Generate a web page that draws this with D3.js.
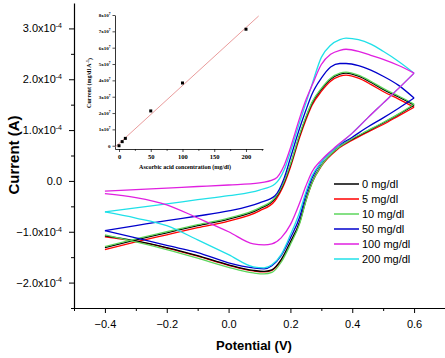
<!DOCTYPE html>
<html>
<head>
<meta charset="utf-8">
<script src="https://cdn.jsdelivr.net/npm/d3@7"></script>
<style>
  body { margin: 0; background: #fff; }
  svg { display: block; font-family: Arial, "Liberation Sans", sans-serif; }
</style>
</head>
<body>
<svg id="chart" width="445" height="358"></svg>
<script>
// potential grid (V) for forward and reverse scans
const potFwd = [-0.4, -0.3, -0.2, -0.1, 0.0, 0.1, 0.15, 0.18, 0.2, 0.23, 0.25, 0.27, 0.3, 0.33, 0.36, 0.38, 0.42, 0.46, 0.5, 0.55, 0.6]
const potRev = [0.6, 0.55, 0.5, 0.45, 0.4, 0.35, 0.3, 0.27, 0.25, 0.23, 0.2, 0.17, 0.14, 0.115, 0.08, 0.0, -0.1, -0.2, -0.3, -0.4]

// current in units of 1e-4 A
const fwd0 = [-1.31, -1.16, -1.02, -0.88, -0.75, -0.55, -0.35, -0.02, 0.31, 0.90, 1.24, 1.53, 1.80, 2.00, 2.10, 2.12, 2.06, 1.94, 1.80, 1.65, 1.49]
const rev0 = [1.49, 1.31, 1.14, 0.98, 0.82, 0.63, 0.31, -0.02, -0.37, -0.80, -1.20, -1.55, -1.75, -1.78, -1.76, -1.65, -1.47, -1.31, -1.18, -1.08]
const fwd5 = [-1.35, -1.20, -1.06, -0.92, -0.79, -0.59, -0.39, -0.06, 0.27, 0.86, 1.20, 1.49, 1.76, 1.96, 2.06, 2.08, 2.02, 1.90, 1.76, 1.61, 1.45]
const rev5 = [1.45, 1.28, 1.11, 0.96, 0.80, 0.61, 0.29, -0.04, -0.39, -0.82, -1.22, -1.57, -1.76, -1.79, -1.77, -1.66, -1.48, -1.32, -1.19, -1.10]
const fwd10 = [-1.29, -1.14, -1.00, -0.86, -0.73, -0.53, -0.33, 0.00, 0.33, 0.92, 1.26, 1.55, 1.82, 2.02, 2.12, 2.14, 2.08, 1.96, 1.82, 1.67, 1.51]
const rev10 = [1.51, 1.32, 1.15, 0.99, 0.83, 0.63, 0.30, -0.04, -0.40, -0.84, -1.25, -1.60, -1.80, -1.83, -1.81, -1.70, -1.52, -1.35, -1.20, -1.06]
const fwd50 = [-0.98, -0.88, -0.78, -0.69, -0.59, -0.43, -0.29, 0.06, 0.45, 1.04, 1.39, 1.71, 2.02, 2.24, 2.31, 2.31, 2.27, 2.18, 2.06, 1.88, 1.63]
const rev50 = [1.63, 1.43, 1.24, 1.06, 0.86, 0.67, 0.37, 0.06, -0.27, -0.71, -1.12, -1.47, -1.67, -1.73, -1.71, -1.61, -1.41, -1.27, -1.12, -0.98]
const fwd100 = [-0.20, -0.17, -0.14, -0.11, -0.08, -0.04, 0.04, 0.31, 0.65, 1.24, 1.59, 1.88, 2.29, 2.49, 2.57, 2.59, 2.55, 2.47, 2.39, 2.27, 2.12]
const rev100 = [2.12, 1.82, 1.53, 1.24, 0.94, 0.69, 0.41, 0.18, -0.10, -0.43, -0.86, -1.12, -1.24, -1.26, -1.24, -1.00, -0.73, -0.47, -0.33, -0.25]
const fwd200 = [-0.61, -0.53, -0.45, -0.37, -0.29, -0.18, -0.06, 0.22, 0.57, 1.16, 1.53, 1.90, 2.43, 2.67, 2.78, 2.81, 2.78, 2.69, 2.55, 2.35, 2.12]
const rev200 = [2.12, 1.82, 1.53, 1.24, 0.94, 0.67, 0.37, 0.10, -0.22, -0.61, -1.06, -1.45, -1.65, -1.71, -1.69, -1.45, -1.16, -0.88, -0.73, -0.61]

const labels = ['0 mg/dl', '5 mg/dl', '10 mg/dl', '50 mg/dl', '100 mg/dl', '200 mg/dl']
const colors = ['#000000', '#ff0000', '#5cd65c', '#0000cc', '#e020e0', '#20e0e8']
const fwdAll = [fwd0, fwd5, fwd10, fwd50, fwd100, fwd200]
const revAll = [rev0, rev5, rev10, rev50, rev100, rev200]
const drawOrder = [1, 0, 2, 3, 5, 4]

const yTicks = [-2, -1, 0, 1, 2, 3]
const xTicks = [-0.4, -0.2, 0.0, 0.2, 0.4, 0.6]

// inset: calibration
const conc = [0, 5, 10, 50, 100, 200]
const resp = [0, 0.25, 0.45, 2.13, 3.84, 7.13]   // x 1e7
const fitConc = [-6, 220]
const fitResp = [-0.08, 7.94]
const insetXTicks = [0, 50, 100, 150, 200]
const insetYTicks = [0, 1, 2, 3, 4, 5, 6, 7, 8]

const svg = d3.select('#chart')

const xScale = d3.scaleLinear().domain([-0.5, 0.7]).range([74, 445])
const yScale = d3.scaleLinear().domain([-2.5, 3.5]).range([308, 3])

// minor ticks
svg.append('g').attr('transform', 'translate(0,308)')
    .call(d3.axisBottom(xScale).tickValues([-0.5, -0.3, -0.1, 0.1, 0.3, 0.5]).tickSize(3).tickFormat(''))
    .call(g => g.select('.domain').remove())
svg.append('g').attr('transform', 'translate(74,0)')
    .call(d3.axisLeft(yScale).tickValues([-2.5, -1.5, -0.5, 0.5, 1.5, 2.5]).tickSize(3).tickFormat(''))
    .call(g => g.select('.domain').remove())

const xAxis = svg.append('g').attr('transform', 'translate(0,308)')
    .call(d3.axisBottom(xScale).tickValues(xTicks).tickSize(5).tickSizeOuter(0).tickFormat(d3.format('.1f')))
xAxis.selectAll('text').attr('font-size', 11).attr('dy', '1.05em').attr('fill', '#000')
xAxis.select('.domain').attr('stroke-width', 1.2)

const yAxis = svg.append('g').attr('transform', 'translate(74,0)')
    .call(d3.axisLeft(yScale).tickValues(yTicks).tickSize(5).tickSizeOuter(0).tickPadding(7))
yAxis.select('.domain').attr('stroke-width', 1.2)
yAxis.selectAll('.tick text').attr('font-size', 11).attr('fill', '#000')
    .each(function (d) {
        const t = d3.select(this).text(null)
        if (d === 0) { t.text('0.0'); return }
        t.append('tspan').text(d3.format('.1f')(d) + 'x10')
        t.append('tspan').attr('font-size', 7).attr('dy', '-0.6em').text('-4')
    })

svg.append('text').attr('transform', 'translate(19,155) rotate(-90)')
    .attr('text-anchor', 'middle').attr('font-weight', 'bold').attr('font-size', 15)
    .text('Current (A)')
svg.append('text').attr('x', 254).attr('y', 350)
    .attr('text-anchor', 'middle').attr('font-weight', 'bold').attr('font-size', 13)
    .text('Potential (V)')

// CV curves
const line = d3.line()
    .x(d => xScale(d[0]))
    .y(d => yScale(d[1]))
    .curve(d3.curveMonotoneX)

drawOrder.forEach(i => {
    const f = potFwd.map((v, j) => [v, fwdAll[i][j]])
    const r = potRev.map((v, j) => [v, revAll[i][j]]).reverse()
    ;[f, r].forEach(pts => {
        svg.append('path').datum(pts)
            .attr('d', line)
            .attr('fill', 'none')
            .attr('stroke', colors[i])
            .attr('stroke-width', 1.3)
    })
})

// legend
const legend = svg.append('g')
labels.forEach((lab, i) => {
    const y = 184 + i * 15
    legend.append('line').attr('x1', 334).attr('x2', 359).attr('y1', y).attr('y2', y)
        .attr('stroke', colors[i]).attr('stroke-width', 1.5)
    legend.append('text').attr('x', 362).attr('y', y + 4).attr('font-size', 11).text(lab)
})

// inset
const ix = d3.scaleLinear().domain([-6.3, 226.8]).range([115, 263])
const iy = d3.scaleLinear().domain([-0.2, 8]).range([149, 15])
const inset = svg.append('g').attr('font-family', '"Liberation Serif", "Times New Roman", serif')

const ixAxis = inset.append('g').attr('transform', 'translate(0,149)')
    .call(d3.axisBottom(ix).tickValues(insetXTicks).tickSize(3).tickSizeOuter(0).tickPadding(2))
ixAxis.selectAll('text').attr('font-size', 6.5).attr('font-weight', 'bold').attr('fill', '#000')
    .attr('font-family', '"Liberation Serif", serif')
ixAxis.select('.domain').attr('stroke-width', 0.8)
ixAxis.selectAll('line').attr('stroke-width', 0.7)
inset.append('g').attr('transform', 'translate(0,149)')
    .call(d3.axisBottom(ix).tickValues([25, 75, 125, 175, 225]).tickSize(2).tickFormat(''))
    .call(g => g.select('.domain').remove())
    .selectAll('line').attr('stroke-width', 0.6)

const iyAxis = inset.append('g').attr('transform', 'translate(115,0)')
    .call(d3.axisLeft(iy).tickValues(insetYTicks).tickSize(2.5).tickSizeOuter(0).tickPadding(2))
iyAxis.select('.domain').attr('stroke-width', 0.8)
iyAxis.selectAll('line').attr('stroke-width', 0.7)
iyAxis.selectAll('.tick text').attr('font-size', 5).attr('font-weight', 'bold').attr('fill', '#000')
    .attr('font-family', '"Liberation Serif", serif')
    .each(function (d) {
        const t = d3.select(this).text(null)
        if (d === 0) { t.text('0'); return }
        t.append('tspan').text(d + 'x10')
        t.append('tspan').attr('font-size', 3.5).attr('dy', '-0.6em').text('7')
    })

inset.append('text').attr('x', 185).attr('y', 169)
    .attr('text-anchor', 'middle').attr('font-weight', 'bold').attr('font-size', 6)
    .text('Ascorbic acid concentration (mg/dl)')
const iyTitle = inset.append('text').attr('transform', 'translate(91,83) rotate(-90)')
    .attr('text-anchor', 'middle').attr('font-weight', 'bold').attr('font-size', 6)
iyTitle.append('tspan').text('Current (mg/dl A')
iyTitle.append('tspan').attr('font-size', 4).attr('dy', '-0.6em').text('-1')
iyTitle.append('tspan').attr('dy', '0.6em').text(')')

inset.append('line')
    .attr('x1', ix(fitConc[0])).attr('y1', iy(fitResp[0]))
    .attr('x2', ix(fitConc[1])).attr('y2', iy(fitResp[1]))
    .attr('stroke', '#e07070').attr('stroke-width', 0.7)

inset.selectAll('rect.pt').data(conc).enter().append('rect')
    .attr('class', 'pt')
    .attr('x', (d) => ix(d) - 1.5)
    .attr('y', (d, i) => iy(resp[i]) - 1.5)
    .attr('width', 3).attr('height', 3)
    .attr('fill', '#000')
</script>
</body>
</html>
